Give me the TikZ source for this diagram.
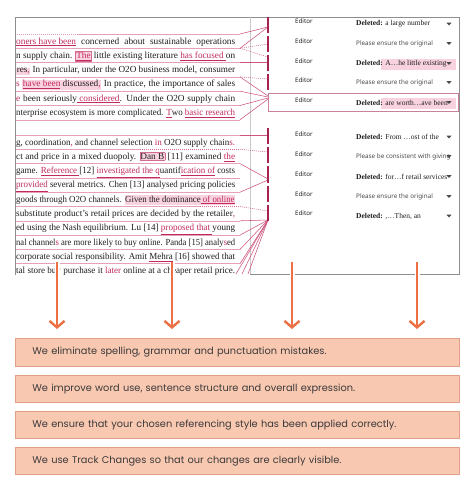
\documentclass[tikz,border=0pt]{standalone}
\usepackage{fontspec}
\usepackage{graphicx}
\setmainfont{Liberation Serif}
\newfontfamily\boxfont{Poppins}
\newfontfamily\uifont{Noto Sans}
\usetikzlibrary{arrows.meta}

\definecolor{framegray}{HTML}{8E8E8E}
\definecolor{sepgray}{HTML}{C9C9C9}
\definecolor{rulepink}{HTML}{E6A0B7}
\definecolor{insred}{HTML}{C22A60}
\definecolor{hlpink}{HTML}{F8D2DE}
\definecolor{bardark}{HTML}{A82250}
\definecolor{bodyblack}{HTML}{1E1E1E}
\definecolor{uigray}{HTML}{4A4A4A}
\definecolor{arroworange}{HTML}{EC7043}
\definecolor{boxfill}{HTML}{F9C8B1}
\definecolor{boxedge}{HTML}{E2A088}
\definecolor{boxtext}{HTML}{3A3A3A}
\definecolor{cboxedge}{HTML}{C98296}

\newcommand\insd[1]{{\color{insred}\underline{#1}}}
\newcommand\hlt[1]{{\setlength\fboxsep{0.6pt}\colorbox{hlpink}{#1}}}
\newcommand\hlb[1]{{\setlength\fboxsep{0.5pt}\setlength\fboxrule{0.4pt}\fcolorbox{insred!70!white}{hlpink}{#1}}}
\newcommand\rd[1]{{\color{insred}#1}}
\newsavebox\lnbox
\newcommand\docline[1]{\sbox\lnbox{#1}\ifdim\wd\lnbox>219pt\resizebox{219pt}{\height}{\usebox\lnbox}\else\makebox[219pt][s]{#1}\fi}

\tikzset{
  docl/.style={inner sep=0pt, anchor=base west, text=bodyblack, font=\fontsize{9.3}{10}\selectfont},
  edname/.style={inner sep=0pt, anchor=west, text=bodyblack, font=\uifont\bfseries\fontsize{6.2}{7}\selectfont},
  cdel/.style={inner sep=0pt, anchor=west, text=bodyblack, font=\fontsize{7.5}{8}\selectfont},
  cnote/.style={inner sep=0pt, anchor=west, text=uigray, font=\uifont\fontsize{6.3}{7}\selectfont},
  pinkrule/.style={draw=rulepink, line width=0.6pt},
  conn/.style={draw=insred!80!white, line width=0.55pt},
  dconn/.style={draw=insred!70!white, line width=0.55pt, dash pattern=on 1pt off 1pt},
  bar/.style={draw=bardark, line width=1.3pt},
  tri/.style={fill=uigray},
  infobox/.style={draw=boxedge, fill=boxfill, line width=0.8pt, minimum width=444pt,
    minimum height=27.5pt, inner xsep=17pt, inner ysep=0pt, text width=410pt, align=left,
    font=\boxfont\fontsize{9.8}{11}\selectfont, text=boxtext, anchor=west},
  orangearrow/.style={draw=arroworange, line width=2.4pt, -{Straight Barb[length=6.5pt,width=15pt]}}
}

\begin{document}
\begin{tikzpicture}[x=1pt,y=-1pt]
\useasboundingbox (0,0) rectangle (474,491);
\fill[white] (0,0) rectangle (474,491);

% ---------- pink rules under text lines ----------
\draw[pinkrule, dash pattern=on 1pt off 1pt] (15,34) -- (77,34);
\draw[pinkrule] (77,34) -- (240,34);
\foreach \yy in {48.3,62.6,76.9,91.2,105.5,119.8} {\draw[pinkrule] (15,\yy) -- (240,\yy);}
\foreach \yy in {135,163.6,177.9,192.2,220.8,235.1,249.4,263.7} {\draw[pinkrule] (15,\yy) -- (240,\yy);}
\draw[pinkrule] (15,149.3) -- (140,149.3);
\draw[pinkrule] (15,206.5) -- (200,206.5);
\draw[dconn] (140,149.3) -- (240,149.3);
\draw[dconn] (200,206.5) -- (240,206.5);

% ---------- highlight fills in comments ----------
\fill[hlpink] (381,58.5) rectangle (456,69.5);
\fill[hlpink] (381,97.5) rectangle (456,108.5);

% ---------- frame ----------
\draw[framegray, line width=0.8pt] (15,17) -- (459,17);
\draw[framegray, line width=0.8pt] (15,17) -- (15,275);
\draw[framegray, line width=0.8pt] (459,17) -- (459,274) -- (250,274);
\draw[sepgray, line width=0.7pt] (250,17) -- (250,274);
\draw[cboxedge, line width=0.6pt] (268,93) rectangle (458,111);

% ---------- connectors ----------
\draw[conn] (240,34) -- (268,27);
\draw[conn] (240,48.3) -- (268,27);
\draw[dconn] (240,48.3) -- (268,44);
\draw[dconn] (240,48.3) -- (268,57);
\draw[conn] (240,62.6) -- (268,62.6);
\draw[dconn] (240,76.9) -- (268,79);
\draw[conn] (240,76.9) -- (268,96);
\draw[conn] (240,91.2) -- (268,97);
\draw[conn] (240,105.5) -- (268,98);
\draw[conn] (240,119.8) -- (268,99);

\draw[conn] (240,135) -- (268,135);
\draw[dconn] (240,149.3) -- (268,152);
\draw[conn] (240,163.6) -- (268,179);
\draw[conn] (240,192.2) -- (268,180);
\draw[dconn] (240,206.5) -- (268,211);
\foreach \yy in {220.8,235.1,249.4,263.7} {\draw[conn] (240,\yy) -- (268,220);}
\foreach \xx in {236,242,248} {\draw[conn] (268,220) -- (\xx,274);}

% ---------- change bars ----------
\foreach \a/\b in {17/33,36/52,55/71,74/90,128/144,147/163,166/183,186/202,205/221}
  {\draw[bar] (268,\a) -- (268,\b);}

% ---------- document text ----------
\node[docl] (t1) at (16,44) {\docline{\insd{oners have been} concerned about sustainable operations}};
\node[docl] (t2) at (16,58.3) {\docline{n supply chain. \hlb{\insd{The}} little existing literature \insd{has focused }on}};
\node[docl] (t3) at (16,72.6) {\docline{\hlt{res\rd{,}} In particular, under the O2O business model, consumer}};
\node[docl] (t4) at (16,86.9) {\docline{\rd{s} \hlt{\insd{have been} discussed\rd{,}} In practice, the importance of sales}};
\node[docl] (t5) at (16,101.2) {\docline{\rd{e} been seriously\insd{ considered}. Under the O2O supply chain}};
\node[docl] (t6) at (16,115.5) {\docline{nterprise ecosystem is more complicated. \insd{T}wo \insd{basic research}}};

\node[docl] (u1) at (16,145) {\docline{g, coordination\rd{,} and channel selection \rd{in} O2O supply chain\rd{s.}}};
\node[docl] (u2) at (16,159.3) {\docline{ct and price in a mixed duopoly. \hlb{Dan B} [11] examined \insd{the}}};
\node[docl] (u3) at (16,173.6) {\docline{game. \insd{Reference }[12] \insd{investigated the q}uantif\insd{ication of} costs}};
\node[docl] (u4) at (16,187.9) {\docline{\insd{provided} several metrics. Chen [13] analysed pricing policies}};
\node[docl] (u5) at (16,202.2) {\docline{goods through O2O channels. \hlt{Given the dominance\insd{ of online}}}};
\node[docl] (u6) at (16,216.5) {\docline{substitute product's retail prices are decided by the retailer\rd{,}}};
\node[docl] (u7) at (16,230.8) {\docline{ed using the Nash equilibrium. Lu [14] \insd{proposed that }young}};
\node[docl] (u8) at (16,245.1) {\docline{nal channel\rd{s} are more likely to buy online. Panda [15] analy\rd{s}ed}};
\node[docl] (u9) at (16,259.4) {\docline{corporate social responsibility. Amit {\color{insred}\underline{\color{bodyblack}Mehra}} [16] showed that}};
\node[docl] (u10) at (16,273.7) {\docline{tal store buy purchase it \rd{later} online at a cheaper retail price.}};

% ---------- comments ----------
\foreach \yy [count=\i] in {21,41,61,80,100,134.5,154,174,194,213.5}
  {\node[edname] (ed\i) at (295,\yy) {Editor};}

\node[cdel] (c1) at (356,24) {\textbf{Deleted:} a large number};
\node[cnote] (c2) at (356,43.5) {Please ensure the original};
\node[cdel] (c3) at (356,63.5) {\textbf{Deleted:} A\ldots he little existing};
\node[cnote] (c4) at (356,82.5) {Please ensure the original};
\node[cdel] (c5) at (356,102.5) {\textbf{Deleted:} are worth\ldots ave been};
\node[cdel] (c6) at (356,137) {\textbf{Deleted:} From \ldots ost of the};
\node[cnote] (c7) at (356,156.5) {Please be consistent with giving};
\node[cdel] (c8) at (356,176.5) {\textbf{Deleted:} for\ldots f retail services};
\node[cnote] (c9) at (356,196.5) {Please ensure the original};
\node[cdel] (c10) at (356,216) {\textbf{Deleted:} ,\ldots Then, an};

\foreach \yy in {24,43.5,63.5,82.5,102.5,137,156.5,176.5,196.5,216}
  {\fill[tri] (446.5,\yy-1.3) -- (451.5,\yy-1.3) -- (449,\yy+1.5) -- cycle;}

% ---------- orange arrows ----------
\foreach \xx [count=\i] in {57,172,292,417} {
  \coordinate (as\i) at (\xx,262);
  \coordinate (ae\i) at (\xx,329);
  \draw[white, line width=5pt] (as\i) -- ++(0,14);
  \draw[orangearrow] (as\i) -- (ae\i);
}

% ---------- info boxes ----------
\node[infobox] (b1) at (15,352.5) {We eliminate spelling, grammar and punctuation mistakes.};
\node[infobox] (b2) at (15,389) {We improve word use, sentence structure and overall expression.};
\node[infobox] (b3) at (15,425) {We ensure that your chosen referencing style has been applied correctly.};
\node[infobox] (b4) at (15,461) {We use Track Changes so that our changes are clearly visible.};
\end{tikzpicture}
\end{document}
